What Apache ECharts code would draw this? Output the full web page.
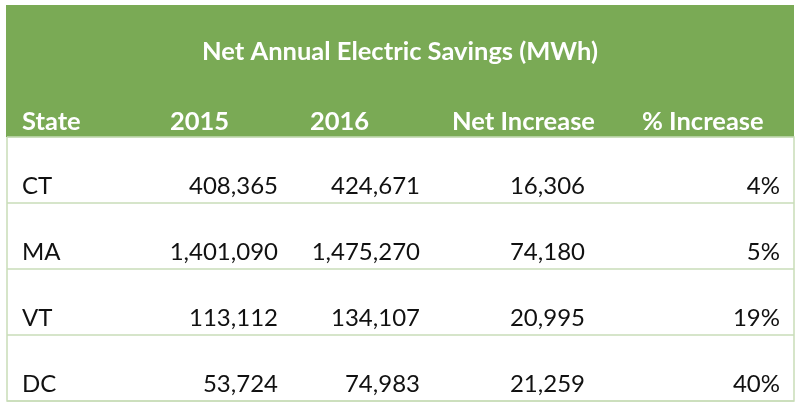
<!DOCTYPE html>
<html>
<head>
<meta charset="utf-8">
<script src="https://cdn.jsdelivr.net/npm/echarts@6/dist/echarts.min.js"></script>
<style>html,body{margin:0;padding:0;background:#fff;}#c{width:800px;height:408px;}</style>
</head>
<body>
<div id="c"></div>
<script>
// ---- data ----
const title = 'Net Annual Electric Savings (MWh)';
const headers = ['State', '2015', '2016', 'Net Increase', '% Increase'];
const states = ['CT', 'MA', 'VT', 'DC'];
const y2015 = [408365, 1401090, 113112, 53724];
const y2016 = [424671, 1475270, 134107, 74983];
const netIncrease = [16306, 74180, 20995, 21259];
const pctIncrease = [4, 5, 19, 40];

// ---- layout (not data) ----
const FONT = 'Lato';
const GREEN = '#7aaa55';
const RULE = '#c9ddb8';
const gridL = 7, gridR = 6, gridT = 137, gridB = 7;
const headerLeft = [15, 163, 303, 445, 635];      // header text left anchors (x-axis units)
const cellAnchor = [15, 271, 413, 578, 773];      // body text anchors
const cellAlign = ['left', 'right', 'right', 'right', 'right'];

const fmt = v => v.toLocaleString('en-US');
const rows = states.map((s, i) => [s, fmt(y2015[i]), fmt(y2016[i]), fmt(netIncrease[i]), pctIncrease[i] + '%']);

const chart = echarts.init(document.getElementById('c'), null, {renderer: 'canvas'});
const W = 800;
const graphics = [
  {type: 'rect', shape: {x: 6, y: 5, width: 788, height: 132}, style: {fill: GREEN}, z: 0},
  {type: 'text', x: 400, y: 52, style: {text: title, fill: '#fff', font: 'bold 25.5px ' + FONT, textAlign: 'center', textVerticalAlign: 'middle'}, z: 2}
];
headers.forEach((h, j) => {
  graphics.push({type: 'text', x: gridL + headerLeft[j], y: 122,
    style: {text: h, fill: '#fff', font: 'bold 25.5px ' + FONT, textAlign: 'left', textVerticalAlign: 'middle'}, z: 2});
});

chart.setOption({
  animation: false,
  grid: {left: gridL, right: gridR, top: gridT, bottom: gridB, show: true, borderColor: RULE, borderWidth: 1.5, backgroundColor: '#fff'},
  xAxis: {type: 'value', min: 0, max: W - gridL - gridR, show: false},
  yAxis: {type: 'category', data: states, inverse: true, boundaryGap: true,
    axisLine: {show: false}, axisTick: {show: false}, axisLabel: {show: false},
    splitLine: {show: true, lineStyle: {color: RULE, width: 1.5}}},
  graphic: graphics,
  series: [{
    type: 'custom',
    data: states.map((s, i) => [0, s]),
    encode: {x: 0, y: 1},
    renderItem: function (params, api) {
      const i = params.dataIndex;
      const band = api.size([0, 1])[1];
      const children = rows[i].map((t, j) => {
        const p = api.coord([cellAnchor[j], states[i]]);
        return {type: 'text', x: p[0], y: p[1] + band / 2 - 17,
          style: {text: t, fill: '#111', font: '24px ' + FONT, textAlign: cellAlign[j], textVerticalAlign: 'middle'}};
      });
      return {type: 'group', children: children};
    }
  }]
});
</script>
</body>
</html>
